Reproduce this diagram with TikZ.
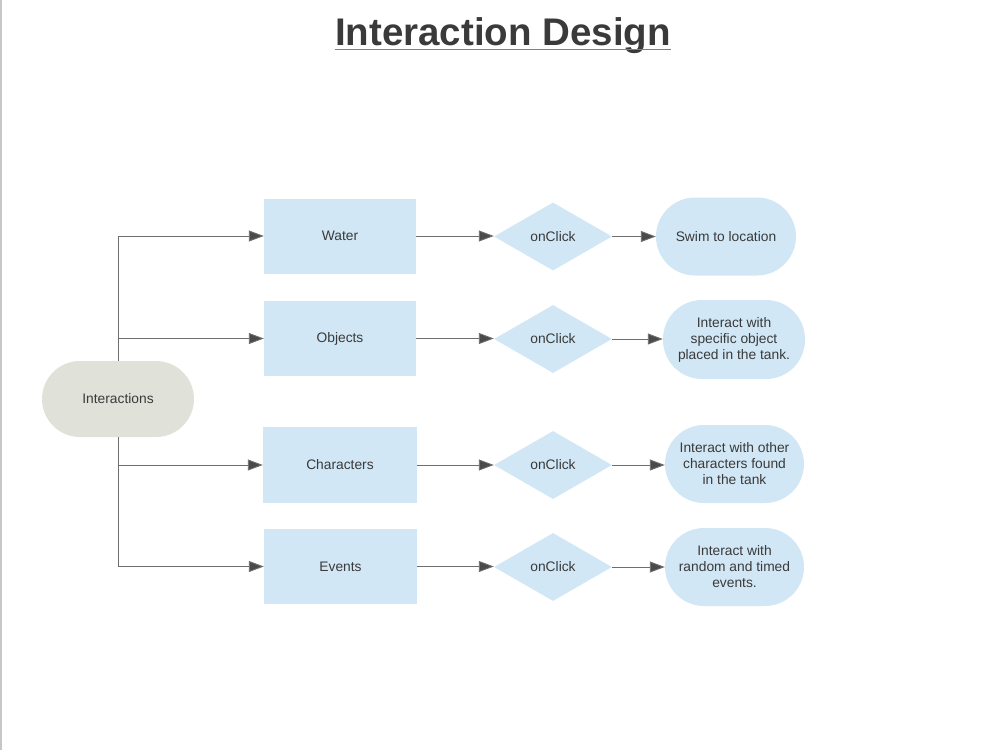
\documentclass[tikz,border=0pt]{standalone}
\usepackage{fontspec}
\setmainfont{Liberation Sans}
\usetikzlibrary{shapes.geometric,arrows.meta}
\definecolor{boxblue}{HTML}{D1E7F5}
\definecolor{startgray}{HTML}{E0E1D9}
\definecolor{linegray}{HTML}{6E6E6E}
\definecolor{tipgray}{HTML}{4A4A4A}
\definecolor{textgray}{HTML}{3A3A3A}
\tikzset{
  every node/.style={font=\fontsize{13.8}{16}\selectfont, text=textgray, align=center, inner sep=0pt},
  rectbox/.style={rectangle, fill=boxblue, minimum width=152pt, minimum height=75pt},
  decbox/.style={diamond, fill=boxblue, minimum width=118pt, minimum height=68pt, aspect=1.73},
  termbox/.style={rectangle, fill=boxblue, rounded corners=39pt, minimum width=140pt, minimum height=78pt},
  startbox/.style={rectangle, fill=startgray, rounded corners=38pt, minimum width=152pt, minimum height=76pt},
  conn/.style={draw=linegray, line width=0.9pt, -{Triangle[length=15pt,width=11pt,fill=tipgray]}},
}
\begin{document}
\begin{tikzpicture}[x=1pt,y=-1pt]
\path[use as bounding box] (0,0) rectangle (1001,750);
\draw[draw=black!22, line width=1.5pt] (1,0) -- (1,750);

\node[anchor=base, font=\fontsize{38.5}{44}\selectfont\bfseries] (title) at (503,45) {Interaction Design};
\draw[draw=black!50, line width=1pt] ([yshift=-4pt]title.base west) -- ([yshift=-4pt]title.base east);

\node[startbox] (int) at (118,399) {Interactions};

\node[rectbox] (water) at (340,236) {Water};
\node[rectbox] (obj) at (340,338.5) {Objects};
\node[rectbox, minimum width=154pt, minimum height=76pt] (char) at (340,465) {Characters};
\node[rectbox, minimum width=153pt] (ev) at (340.5,566.5) {Events};

\node[decbox] (d1) at (553,236.5) {onClick};
\node[decbox] (d2) at (553,339) {onClick};
\node[decbox] (d3) at (553,465) {onClick};
\node[decbox] (d4) at (553,567) {onClick};

\node[termbox] (t1) at (726,236.5) {Swim to location};
\node[termbox, minimum width=142pt, minimum height=79pt] (t2) at (734,339.5) {Interact with\\specific object\\placed in the tank.};
\node[termbox, minimum width=139pt] (t3) at (734.5,464) {Interact with other\\characters found\\in the tank};
\node[termbox, minimum width=139pt] (t4) at (734.5,567) {Interact with\\random and timed\\events.};

\draw[conn] (int.north) |- (water.west);
\draw[conn] (int.north) |- (obj.west);
\draw[conn] (int.south) |- (char.west);
\draw[conn] (int.south) |- (ev.west);

\draw[conn] (water.east) -- (d1.west |- water.east);
\draw[conn] (obj.east) -- (d2.west |- obj.east);
\draw[conn] (char.east) -- (d3.west |- char.east);
\draw[conn] (ev.east) -- (d4.west |- ev.east);

\draw[conn] (d1.east) -- (t1.west |- d1.east);
\draw[conn] (d2.east) -- (t2.west |- d2.east);
\draw[conn] (d3.east) -- (t3.west |- d3.east);
\draw[conn] (d4.east) -- (t4.west |- d4.east);
\end{tikzpicture}
\end{document}
